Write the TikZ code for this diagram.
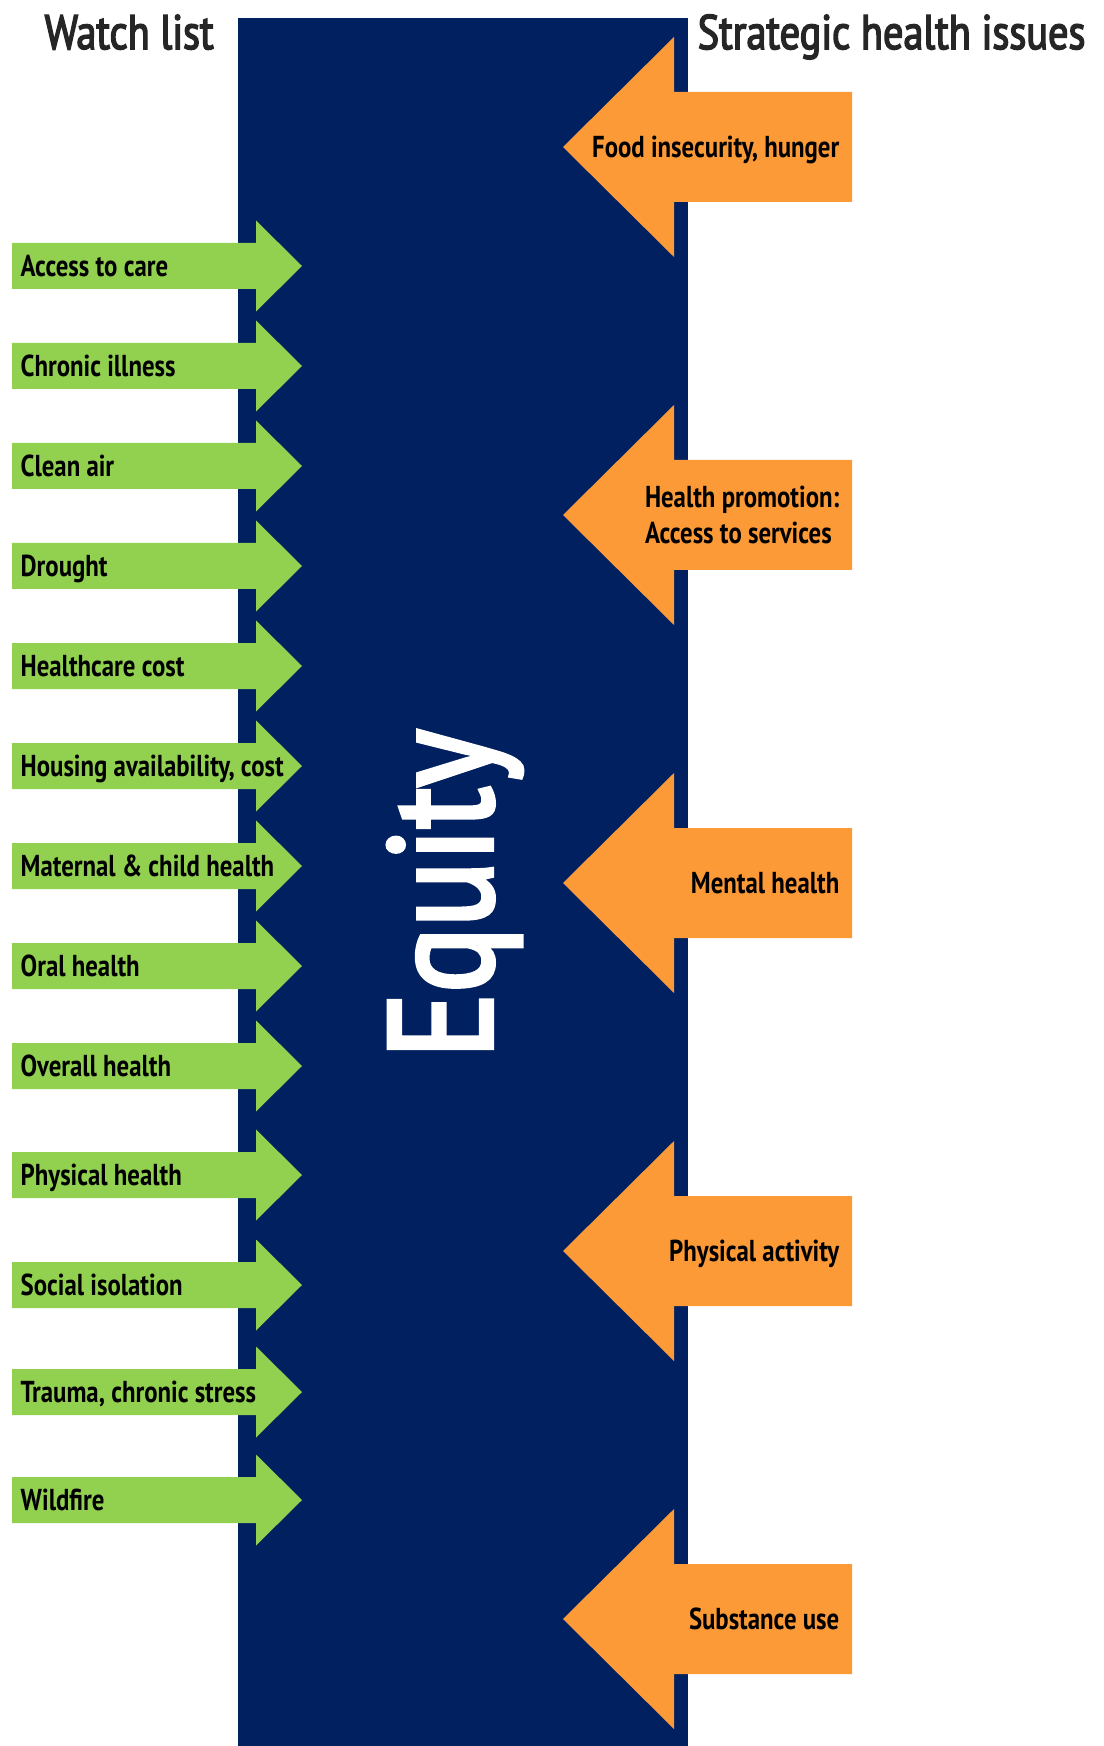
\documentclass[tikz,border=0pt]{standalone}
\usepackage{fontspec}
\setmainfont{PT Sans}[FakeStretch=0.82]
\newfontfamily\headfont{PT Sans}[FakeStretch=0.83,FakeBold=3]
\definecolor{equitynavy}{HTML}{002060}
\definecolor{watchgreen}{HTML}{92D050}
\definecolor{issueorange}{HTML}{FB9A37}
\definecolor{headgray}{HTML}{262626}
\tikzset{watchlbl/.style={anchor=west,inner sep=0pt,text height=6pt,text depth=0pt,
			font=\fontsize{8.6}{10}\selectfont\bfseries},
		 issuelbl/.style={watchlbl,anchor=east,align=left}}

\begin{document}
\begin{tikzpicture}[x=0.01cm,y=-0.01cm,
	header/.style={anchor=west,inner sep=0pt,text height=9.7pt,text depth=0pt,
		text=headgray,font=\fontsize{13.8}{15}\headfont},
	equitytxt/.style={rotate=90,inner sep=0pt,text height=29.3pt,text depth=0pt,
		text=white,font=\fontsize{41.9}{44}\headfont}]
	\useasboundingbox (0,0) rectangle (1103,1746);

	\fill[equitynavy] (238,18) rectangle (688,1746);
	\node[equitytxt] (equity) at (440.5,894) {Equity};

	\node[header] (watchhead) at (44,32) {Watch list};
	\node[header] (issuehead) at (697,32) {Strategic health issues};

	% watch list, pointing into the bar
	\foreach \y/\txt [count=\i] in {266/Access to care,366/Chronic illness,466/Clean air,
		566/Drought,666/Healthcare cost,766/{Housing availability, cost},
		866/Maternal \& child health,966/Oral health,1066/Overall health,
		1175/Physical health,1285/Social isolation,1392/{Trauma, chronic stress},1500/Wildfire}
	{
		\fill[watchgreen] (12,\y-23) -- (256,\y-23) -- (256,\y-45.5) -- (302,\y)
			-- (256,\y+45.5) -- (256,\y+23) -- (12,\y+23) -- cycle;
		\node[watchlbl] (watch\i) at (20,\y) {\txt};
	}

	% strategic issues, pointing back in (\dy drops the two-line label)
	\foreach \y/\dy/\txt [count=\i] in {147/0/{Food insecurity, hunger},
		515/17.5/{Health promotion:\\Access to services},883/0/Mental health,
		1251/0/Physical activity,1619/0/Substance use}
	{
		\fill[issueorange] (852,\y-55) -- (674,\y-55) -- (674,\y-110) -- (563,\y)
			-- (674,\y+110) -- (674,\y+55) -- (852,\y+55) -- cycle;
		\node[issuelbl] (issue\i) at (840,\y+\dy) {\txt};
	}
\end{tikzpicture}
\end{document}
